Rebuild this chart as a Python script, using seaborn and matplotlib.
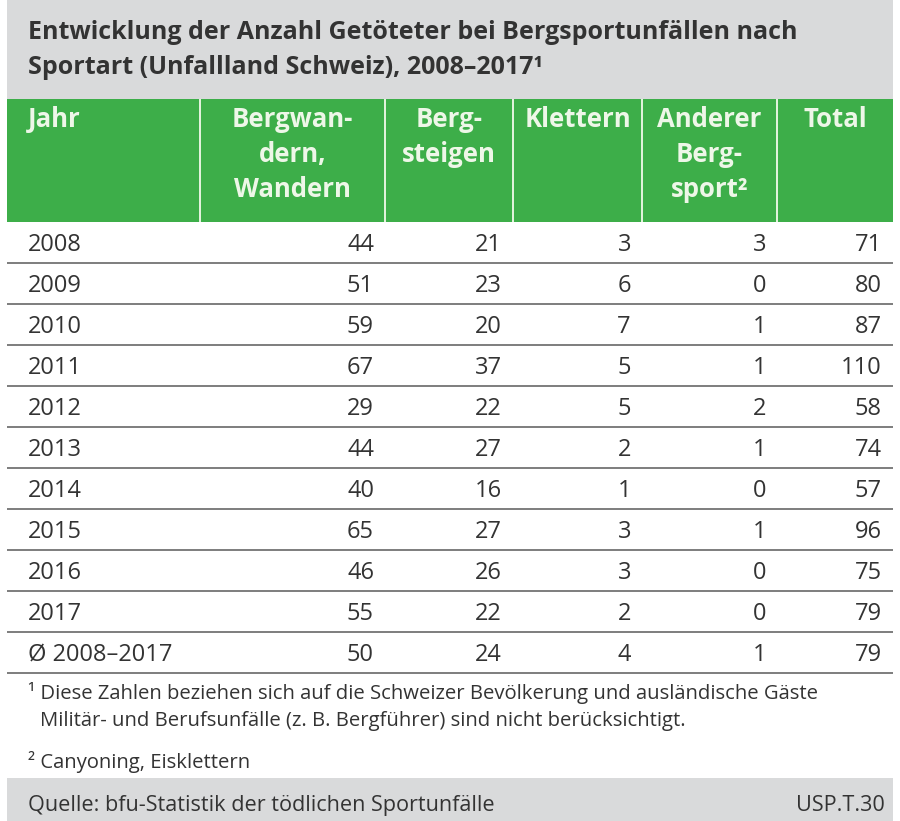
import pandas as pd
import matplotlib.pyplot as plt
import seaborn as sns
from matplotlib.patches import Rectangle

# table values
jahre = ['2008', '2009', '2010', '2011', '2012', '2013', '2014', '2015', '2016', '2017', 'Ø 2008–2017']
bergwandern = [44, 51, 59, 67, 29, 44, 40, 65, 46, 55, 50]
bergsteigen = [21, 23, 20, 37, 22, 27, 16, 27, 26, 22, 24]
klettern = [3, 6, 7, 5, 5, 2, 1, 3, 3, 2, 4]
anderer = [3, 0, 1, 1, 2, 1, 0, 1, 0, 0, 1]
total = [71, 80, 87, 110, 58, 74, 57, 96, 75, 79, 79]

kopf = [['Jahr'], ['Bergwan-', 'dern,', 'Wandern'], ['Berg-', 'steigen'], ['Klettern'],
        ['Anderer', 'Berg-', 'sport²'], ['Total']]
titel = ['Entwicklung der Anzahl Getöteter bei Bergsportunfällen nach',
         'Sportart (Unfallland Schweiz), 2008–2017¹']
fussnote1 = '¹ Diese Zahlen beziehen sich auf die Schweizer Bevölkerung und ausländische Gäste'
fussnote1b = 'Militär- und Berufsunfälle (z. B. Bergführer) sind nicht berücksichtigt.'
fussnote2 = '² Canyoning, Eisklettern'
quelle = 'Quelle: bfu-Statistik der tödlichen Sportunfälle'
code = 'USP.T.30'

df = pd.DataFrame({'Jahr': jahre, 'Bergwandern': bergwandern, 'Bergsteigen': bergsteigen,
                   'Klettern': klettern, 'Anderer': anderer, 'Total': total})

sns.set_theme(style='white')
plt.rcParams['font.family'] = ['Open Sans', 'DejaVu Sans']

gruen = '#3dae49'
grau = '#d9dadb'
dunkel = '#333333'
kopfschrift = '#eef7e8'

# layout (pixel units of the 900x821 picture)
kanten = [7, 200, 385, 513, 642, 777, 893]
kopf_oben, kopf_unten = 99, 222
zeile = 41
kopf_abstand = 35

fig = plt.figure(figsize=(9, 8.21), dpi=100)
ax = fig.add_axes([0, 0, 1, 1])
ax.set_xlim(0, 900)
ax.set_ylim(821, 0)
ax.axis('off')

# title band
ax.add_patch(Rectangle((kanten[0], 0), kanten[-1] - kanten[0], kopf_oben, color=grau, lw=0))
for n, t in enumerate(titel):
    ax.text(28, 39 + n * kopf_abstand, t, fontsize=18, fontweight='bold', color=dunkel,
            va='baseline')

# green header
ax.add_patch(Rectangle((kanten[0], kopf_oben), kanten[-1] - kanten[0], kopf_unten - kopf_oben,
                       color=gruen, lw=0))
ax.vlines(kanten[1:-1], kopf_oben, kopf_unten, color='#e6f4e0', lw=1.4)
for i, zeilen in enumerate(kopf):
    for n, k in enumerate(zeilen):
        y = 127 + n * kopf_abstand
        if i == 0:
            ax.text(28, y, k, fontsize=18.5, fontweight='bold', color=kopfschrift,
                    va='baseline', ha='left')
        else:
            mitte = (kanten[i] + kanten[i + 1]) / 2
            ax.text(mitte, y, k, fontsize=18.5, fontweight='bold', color=kopfschrift,
                    va='baseline', ha='center')

# body rows
spalten = ['Bergwandern', 'Bergsteigen', 'Klettern', 'Anderer', 'Total']
for r, row in df.iterrows():
    oben = kopf_unten + r * zeile
    ax.text(28, oben + 29, row['Jahr'], fontsize=17, color=dunkel, va='baseline')
    for j, s in enumerate(spalten):
        ax.text(kanten[j + 2] - 11, oben + 29, str(row[s]), fontsize=17, color=dunkel,
                va='baseline', ha='right')
linien = [kopf_unten + (r + 1) * zeile for r in range(len(df))]
ax.hlines(linien, kanten[0], kanten[-1], color='#7d7d7d', lw=1.4)

# footnotes
ax.text(28, 699, fussnote1, fontsize=14.6, color=dunkel, va='baseline')
ax.text(40, 726, fussnote1b, fontsize=14.6, color=dunkel, va='baseline')
ax.text(28, 768, fussnote2, fontsize=14.6, color=dunkel, va='baseline')

# source band
ax.add_patch(Rectangle((kanten[0], 778), kanten[-1] - kanten[0], 821 - 778, color=grau, lw=0))
ax.text(28, 811, quelle, fontsize=15.6, color=dunkel, va='baseline')
ax.text(885, 811, code, fontsize=15.6, color=dunkel, va='baseline', ha='right')

fig.savefig('out.png', dpi=100, facecolor='white')
